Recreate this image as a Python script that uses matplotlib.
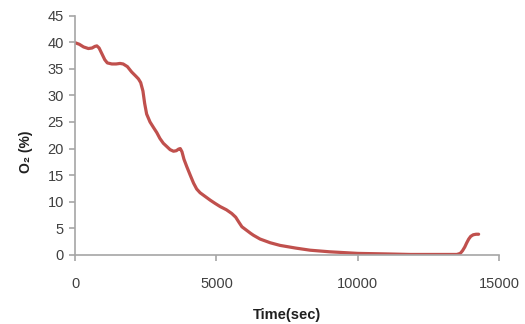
import numpy as np
import matplotlib
matplotlib.use("Agg")
import matplotlib.pyplot as plt

# O2 concentration over time
time_sec = [0, 150, 300, 470, 600, 700, 770, 850, 950, 1050, 1140, 1300, 1450,
            1590, 1700, 1850, 2000, 2150, 2240, 2320, 2400, 2460, 2530, 2650,
            2780, 2890, 3000, 3120, 3240, 3360, 3480, 3580, 3660, 3720, 3780,
            3850, 3950, 4080, 4190, 4300, 4420, 4600, 4780, 4950, 5130, 5350,
            5540, 5680, 5800, 5900, 6050, 6200, 6310, 6540, 6900, 7250, 7800,
            8310, 9000, 10000, 11000, 11850, 12800, 13500, 13620, 13700, 13780,
            13850, 13920, 13990, 14080, 14180, 14270]
o2_pct = [39.9, 39.6, 39.1, 38.8, 38.9, 39.2, 39.3, 38.9, 37.8, 36.7, 36.1,
          35.9, 35.9, 36.0, 35.9, 35.4, 34.4, 33.6, 33.1, 32.4, 30.8, 28.5,
          26.5, 25.0, 23.9, 23.0, 21.9, 21.0, 20.4, 19.8, 19.5, 19.6, 19.9,
          20.0, 19.4, 18.0, 16.6, 14.9, 13.5, 12.4, 11.7, 11.0, 10.3, 9.7,
          9.1, 8.5, 7.8, 7.1, 6.1, 5.3, 4.7, 4.1, 3.7, 3.0, 2.3, 1.8, 1.3,
          0.9, 0.6, 0.3, 0.2, 0.1, 0.1, 0.1, 0.3, 0.8, 1.5, 2.3, 3.0, 3.5,
          3.8, 3.9, 3.9]

x_ticks = [0, 5000, 10000, 15000]
y_ticks = [0, 5, 10, 15, 20, 25, 30, 35, 40, 45]

fig = plt.figure(figsize=(5.25, 3.24), dpi=100)
ax = fig.add_axes([0.143, 0.213, 0.808, 0.739])

ax.plot(time_sec, o2_pct, color='#C0504D', lw=2.3, solid_joinstyle='round',
        solid_capstyle='round')

ax.set_xlim(0, 15000)
ax.set_ylim(0, 45)
ax.set_xticks(x_ticks)
ax.set_yticks(y_ticks)

for s in ['top', 'right']:
    ax.spines[s].set_visible(False)
for s in ['left', 'bottom']:
    ax.spines[s].set_color('#A6A6A6')
    ax.spines[s].set_linewidth(1.2)

ax.tick_params(axis='both', colors='#A6A6A6', labelcolor='#404040',
               labelsize=10.5, length=4, width=1.2)
ax.tick_params(axis='x', pad=12)
ax.tick_params(axis='y', pad=4)
for lab in ax.get_xticklabels() + ax.get_yticklabels():
    lab.set_family('Liberation Sans')

ax.set_xlabel('Time(sec)', fontsize=10.5, fontweight='bold', color='#202020',
              family='Liberation Sans', labelpad=12)
ax.set_ylabel('O₂ (%)', fontsize=10, fontweight='bold', color='#202020',
              family=['Liberation Sans', 'DejaVu Sans'])
ax.yaxis.set_label_coords(-0.10, 0.433)

fig.savefig('out.png', dpi=100)
